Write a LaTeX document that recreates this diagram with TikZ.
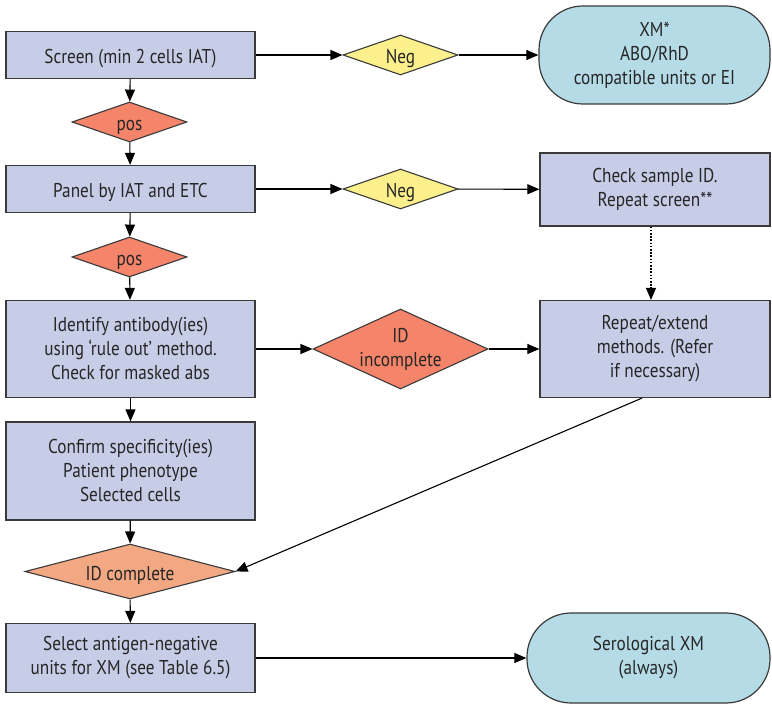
\documentclass[tikz,border=0pt]{standalone}
\usepackage{fontspec}
\setmainfont[FakeStretch=0.86]{PT Sans}
\usetikzlibrary{shapes.geometric,arrows.meta,calc}
\definecolor{boxfill}{HTML}{C8CDE7}
\definecolor{posfill}{HTML}{F4846A}
\definecolor{idcfill}{HTML}{F2A882}
\definecolor{negfill}{HTML}{FCF08C}
\definecolor{termfill}{HTML}{B5DCE6}
\definecolor{edge}{HTML}{3A3A3A}
\definecolor{txt}{HTML}{262626}
\newcommand{\lowtext}[1]{\raisebox{-9pt}[0pt][0pt]{#1}}
\begin{document}
\begin{tikzpicture}[x=1pt,y=-1pt,
  font=\fontsize{20}{24}\selectfont,
  every node/.style={text=txt},
  procbox/.style={draw=edge, fill=boxfill, line width=1.2pt, align=center, inner sep=0pt, minimum width=249pt},
  decbox/.style={diamond, draw=edge, line width=1.1pt, align=center, inner sep=0pt, minimum width=115pt, minimum height=40pt, aspect=2.9},
  termbox/.style={draw=edge, fill=termfill, line width=1.2pt, align=center, inner sep=0pt, rounded corners=44pt},
  conn/.style={draw=black, line width=1.1pt, -{Triangle[length=12pt,width=10pt]}}
]
\useasboundingbox (0,0) rectangle (772,708);

\node[procbox, minimum height=47pt] (screen) at (130.5,55) {\lowtext{Screen (min 2 cells IAT)}};
\node[decbox, fill=posfill] (pos1) at (129.5,122) {\lowtext{pos}};
\node[procbox, minimum height=47pt] (panel) at (130.5,189) {\lowtext{Panel by IAT and ETC}};
\node[decbox, fill=posfill] (pos2) at (129.5,257) {\lowtext{pos}};
\node[procbox, minimum height=97pt] (ident) at (130.5,349) {Identify antibody(ies)\\using ‘rule out’ method.\\Check for masked abs};
\node[procbox, minimum height=98pt] (confirm) at (130.5,471) {Confirm specificity(ies)\\Patient phenotype\\Selected cells};
\node[decbox, fill=idcfill, minimum width=210pt, minimum height=55pt, aspect=3.8] (idc) at (130,571.5) {\lowtext{ID complete}};
\node[procbox, minimum height=69pt] (select) at (130.5,658) {Select antigen-negative\\units for XM (see Table 6.5)};

\node[decbox, fill=negfill] (neg1) at (400.5,55) {\lowtext{Neg}};
\node[termbox, minimum width=231pt, minimum height=98pt] (xm) at (654.5,55) {XM*\\ABO/RhD\\compatible units or EI};
\node[decbox, fill=negfill] (neg2) at (400.5,189) {\lowtext{Neg}};
\node[procbox, minimum width=230pt, minimum height=73pt] (check) at (655,189.5) {Check sample ID.\\Repeat screen**};
\node[decbox, fill=posfill, minimum width=175pt, minimum height=80pt, aspect=2.2] (idi) at (400.5,349) {ID\\incomplete};
\node[procbox, minimum width=230pt, minimum height=97pt] (rep) at (655,349) {Repeat/extend\\methods. (Refer\\if necessary)};
\node[termbox, minimum width=243pt, minimum height=90pt] (sero) at (648.5,658) {Serological XM\\(always)};

\draw[conn] (screen) -- (pos1);
\draw[conn] (pos1) -- (panel);
\draw[conn] (panel) -- (pos2);
\draw[conn] (pos2) -- (ident);
\draw[conn] (ident) -- (confirm);
\draw[conn] (confirm) -- (idc);
\draw[conn] (idc) -- (select);
\draw[conn] (screen) -- (neg1);
\draw[conn] (neg1) -- (xm);
\draw[conn] (panel) -- (neg2);
\draw[conn] (neg2) -- (check);
\draw[conn] (ident) -- (idi);
\draw[conn] (idi) -- (rep);
\draw[conn, dash pattern=on 1.6pt off 1.6pt] ([xshift=-4pt]check.south) -- ([xshift=-4pt]rep.north);
\draw[conn] ([xshift=-13pt]rep.south) -- (idc.east);
\draw[conn] (select) -- (sero);
\end{tikzpicture}
\end{document}
